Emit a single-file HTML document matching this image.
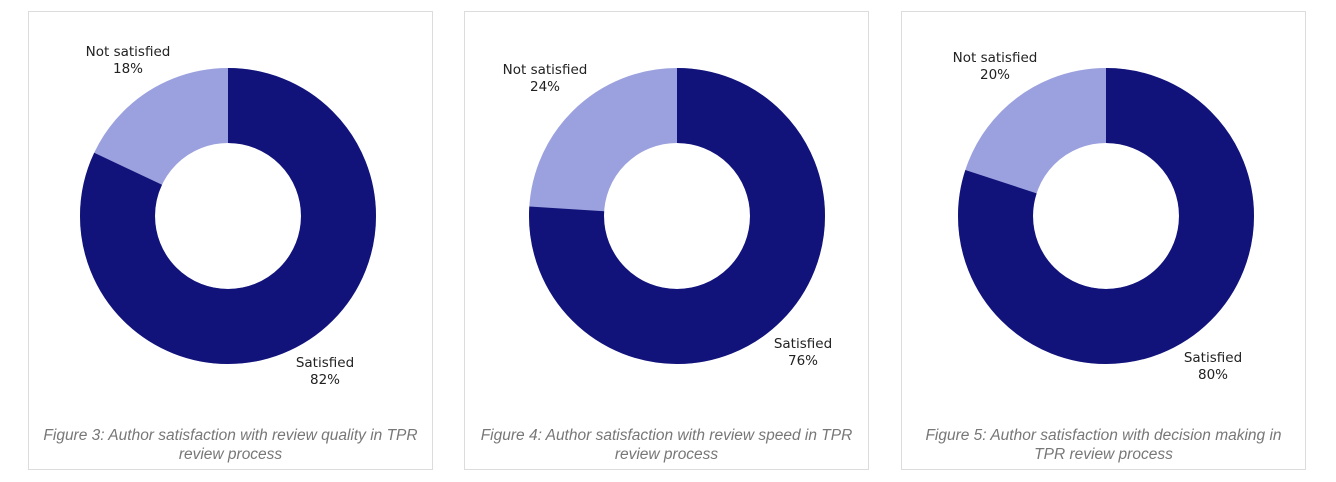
<!DOCTYPE html>
<html><head><style>
body{margin:0;width:1336px;height:482px;background:#fff;position:relative;overflow:hidden}
.p{position:absolute;top:11px;width:405px;height:459px;border:1px solid #dcdcdc;box-sizing:border-box}
.cap{position:absolute;left:0;width:100%;top:414px;text-align:center;font:italic 15.5px/19px "Liberation Sans",sans-serif;color:#777}
svg{position:absolute;left:0;top:0}
text{font-family:"DejaVu Sans",sans-serif;font-size:13.5px;fill:#222;text-anchor:middle}
</style></head><body>
<div class="p" style="left:28px"><div class="cap">Figure 3: Author satisfaction with review quality in TPR<br>review process</div></div>
<div class="p" style="left:464px"><div class="cap">Figure 4: Author satisfaction with review speed in TPR<br>review process</div></div>
<div class="p" style="left:901px"><div class="cap">Figure 5: Author satisfaction with decision making in<br>TPR review process</div></div>
<svg width="1336" height="482">
<g transform="translate(228,216) rotate(-90)">
<circle r="110.5" fill="none" stroke="#9ba1de" stroke-width="75"/>
<circle r="110.5" fill="none" stroke="#12137a" stroke-width="75" stroke-dasharray="569.32 1000"/>
</g>
<g transform="translate(677,216) rotate(-90)">
<circle r="110.5" fill="none" stroke="#9ba1de" stroke-width="75"/>
<circle r="110.5" fill="none" stroke="#12137a" stroke-width="75" stroke-dasharray="527.66 1000"/>
</g>
<g transform="translate(1106,216) rotate(-90)">
<circle r="110.5" fill="none" stroke="#9ba1de" stroke-width="75"/>
<circle r="110.5" fill="none" stroke="#12137a" stroke-width="75" stroke-dasharray="555.43 1000"/>
</g>
<text x="128" y="56">Not satisfied</text><text x="128" y="73">18%</text>
<text x="325" y="367">Satisfied</text><text x="325" y="384">82%</text>
<text x="545" y="74">Not satisfied</text><text x="545" y="91">24%</text>
<text x="803" y="348">Satisfied</text><text x="803" y="365">76%</text>
<text x="995" y="62">Not satisfied</text><text x="995" y="79">20%</text>
<text x="1213" y="362">Satisfied</text><text x="1213" y="379">80%</text>
</svg>
</body></html>
